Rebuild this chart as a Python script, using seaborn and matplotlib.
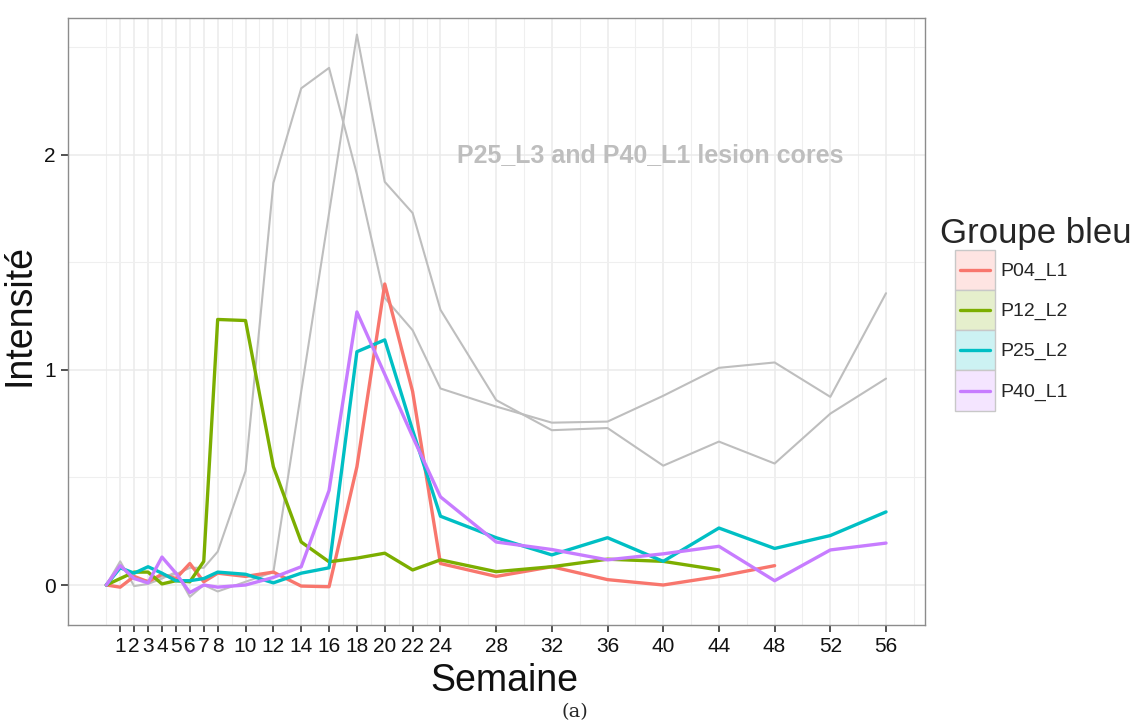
import numpy as np
import pandas as pd
import matplotlib
matplotlib.use("Agg")
import matplotlib.pyplot as plt
import seaborn as sns
from matplotlib.patches import Rectangle
from matplotlib.lines import Line2D
from matplotlib.colors import to_rgb

nan = np.nan

# ---------------- data ----------------
weeks = [0, 1, 2, 3, 4, 5, 6, 7, 8, 10, 12, 14, 16, 18, 20, 22, 24, 28, 32, 36, 40, 44, 48, 52, 56]

patients = ["P04_L1", "P12_L2", "P25_L2", "P40_L1"]
P04_L1 = [0, -0.01, 0.04, 0.015, 0.05, 0.03, 0.10, 0.015, 0.055, 0.04, 0.06, -0.005, -0.008,
          0.55, 1.40, 0.90, 0.10, 0.04, 0.085, 0.025, 0.0, 0.04, 0.09, nan, nan]
P12_L2 = [0, 0.03, 0.06, 0.06, 0.005, 0.02, 0.015, 0.11, 1.235, 1.23, 0.55, 0.20, 0.108,
          0.125, 0.148, 0.07, 0.117, 0.062, 0.085, 0.12, 0.11, 0.07, nan, nan, nan]
P25_L2 = [0, 0.08, 0.055, 0.085, 0.055, 0.02, 0.02, 0.03, 0.06, 0.05, 0.01, 0.055, 0.08,
          1.085, 1.14, 0.72, 0.32, 0.22, 0.14, 0.22, 0.11, 0.265, 0.17, 0.23, 0.34]
P40_L1 = [0, 0.09, 0.03, 0.01, 0.13, 0.055, -0.035, 0.0, -0.01, 0.0, 0.035, 0.085, 0.44,
          1.27, 0.98, 0.69, 0.41, 0.20, 0.165, 0.117, 0.145, 0.18, 0.02, 0.163, 0.195]

cores = ["P25_L3", "P40_L1_core"]
core_A = [0, 0.09, 0.03, 0.02, 0.04, 0.05, 0.08, 0.08, 0.155, 0.53, 1.87, 2.31, 2.405,
          1.91, 1.335, 1.185, 0.914, 0.83, 0.755, 0.76, 0.88, 1.01, 1.035, 0.875, 1.357]
core_B = [0, 0.11, -0.005, 0.005, 0.03, 0.06, -0.055, 0.0, -0.03, 0.015, 0.06, 0.90, 1.73,
          2.56, 1.875, 1.73, 1.28, 0.86, 0.72, 0.73, 0.555, 0.667, 0.565, 0.797, 0.96]

colors = ["#F8766D", "#7CAE00", "#00BFC4", "#C77CFF"]
grey = "#BEBEBE"

x_major = [1, 2, 3, 4, 5, 6, 7, 8, 10, 12, 14, 16, 18, 20, 22, 24, 28, 32, 36, 40, 44, 48, 52, 56]
x_minor = [0, 9, 11, 13, 15, 17, 19, 21, 23, 26, 30, 34, 38, 42, 46, 50, 54, 58]
annotation = "P25_L3 and P40_L1 lesion cores"

# ---------------- frames ----------------
series = dict(zip(patients, [P04_L1, P12_L2, P25_L2, P40_L1]))
df = pd.concat([pd.DataFrame({"week": weeks, "value": v, "patient": p}) for p, v in series.items()])
df = df.dropna()
grey_df = pd.concat([pd.DataFrame({"week": weeks, "value": v, "lesion": n})
                     for n, v in zip(cores, [core_A, core_B])])

# ---------------- plot ----------------
sns.set_theme(style="white")
plt.rcParams["font.family"] = ["Liberation Sans", "DejaVu Sans"]

fig = plt.figure(figsize=(11.42, 7.28), dpi=100)
W, H = 1142, 728
ax = fig.add_axes([68 / W, 1 - 625 / H, (925 - 68) / W, (625 - 18) / H])

sns.lineplot(data=grey_df, x="week", y="value", units="lesion", estimator=None,
             color=grey, lw=1.5, ax=ax, legend=False)
sns.lineplot(data=df, x="week", y="value", hue="patient", hue_order=patients,
             palette=colors, estimator=None, lw=2.4, ax=ax, legend=False)

ax.set_xlim(-2.75, 58.8)
ax.set_ylim(-0.186, 2.637)
ax.set_xticks(x_major)
ax.set_xticklabels([str(w) for w in x_major])
ax.set_xticks(x_minor, minor=True)
ax.set_yticks([0, 1, 2])
ax.set_yticks([0.5, 1.5, 2.5], minor=True)
ax.grid(which="major", color="#EBEBEB", lw=1.1)
ax.grid(which="minor", color="#EFEFEF", lw=0.8)
ax.set_axisbelow(True)
ax.tick_params(which="major", length=5, width=1.1, color="#222222", direction="out",
               labelsize=15, labelcolor="#111111", pad=4, bottom=True, left=True)
ax.tick_params(which="minor", length=0)
for s in ax.spines.values():
    s.set_color("#8C8C8C")
    s.set_linewidth(1.0)

ax.set_xlabel("Semaine", fontsize=27, labelpad=3, color="#111111")
ax.set_ylabel("Intensité", fontsize=27, labelpad=3, color="#111111")
ax.xaxis.set_label_coords((504 - 68) / 857, -0.062)
ax.yaxis.set_label_coords((38 - 68) / 857, (625 - 315) / 607)

ax.text(39.05, 2.0, annotation, color=grey, fontsize=18, fontweight="bold",
        ha="center", va="center")


def tint(c, a=0.2):
    r = np.array(to_rgb(c))
    return tuple(1 - a + a * r)


KEY_INDENT = 10.8  # points


class KeyHandler:
    def __init__(self, color):
        self.color = color

    def legend_artist(self, legend, orig_handle, fontsize, handlebox):
        x0, y0 = -handlebox.xdescent + KEY_INDENT, -handlebox.ydescent
        w, h = handlebox.width - KEY_INDENT, handlebox.height
        rect = Rectangle((x0, y0), w, h, facecolor=tint(self.color), edgecolor="#C8C8C8",
                         lw=1.0, transform=handlebox.get_transform())
        line = Line2D([x0 + 0.12 * w, x0 + 0.88 * w], [y0 + h / 2, y0 + h / 2],
                      color=self.color, lw=2.4, transform=handlebox.get_transform())
        handlebox.add_artist(rect)
        handlebox.add_artist(line)
        return rect


handles = [Line2D([], [], color=c) for c in colors]
hmap = {h: KeyHandler(c) for h, c in zip(handles, colors)}
leg = fig.legend(handles, patients, handler_map=hmap,
                 loc="upper left", bbox_to_anchor=(940 / W, 1 - 217 / H), frameon=False,
                 title="Groupe bleu", title_fontsize=25, fontsize=14,
                 handlelength=2.83, handleheight=2.8, labelspacing=0.0,
                 handletextpad=0.3, borderpad=0, borderaxespad=0, alignment="left")

fig.text(575 / W, 1 - 712 / H, "(a)", family="DejaVu Serif", fontsize=14,
         ha="center", va="center")

fig.savefig("out.png", dpi=100)
